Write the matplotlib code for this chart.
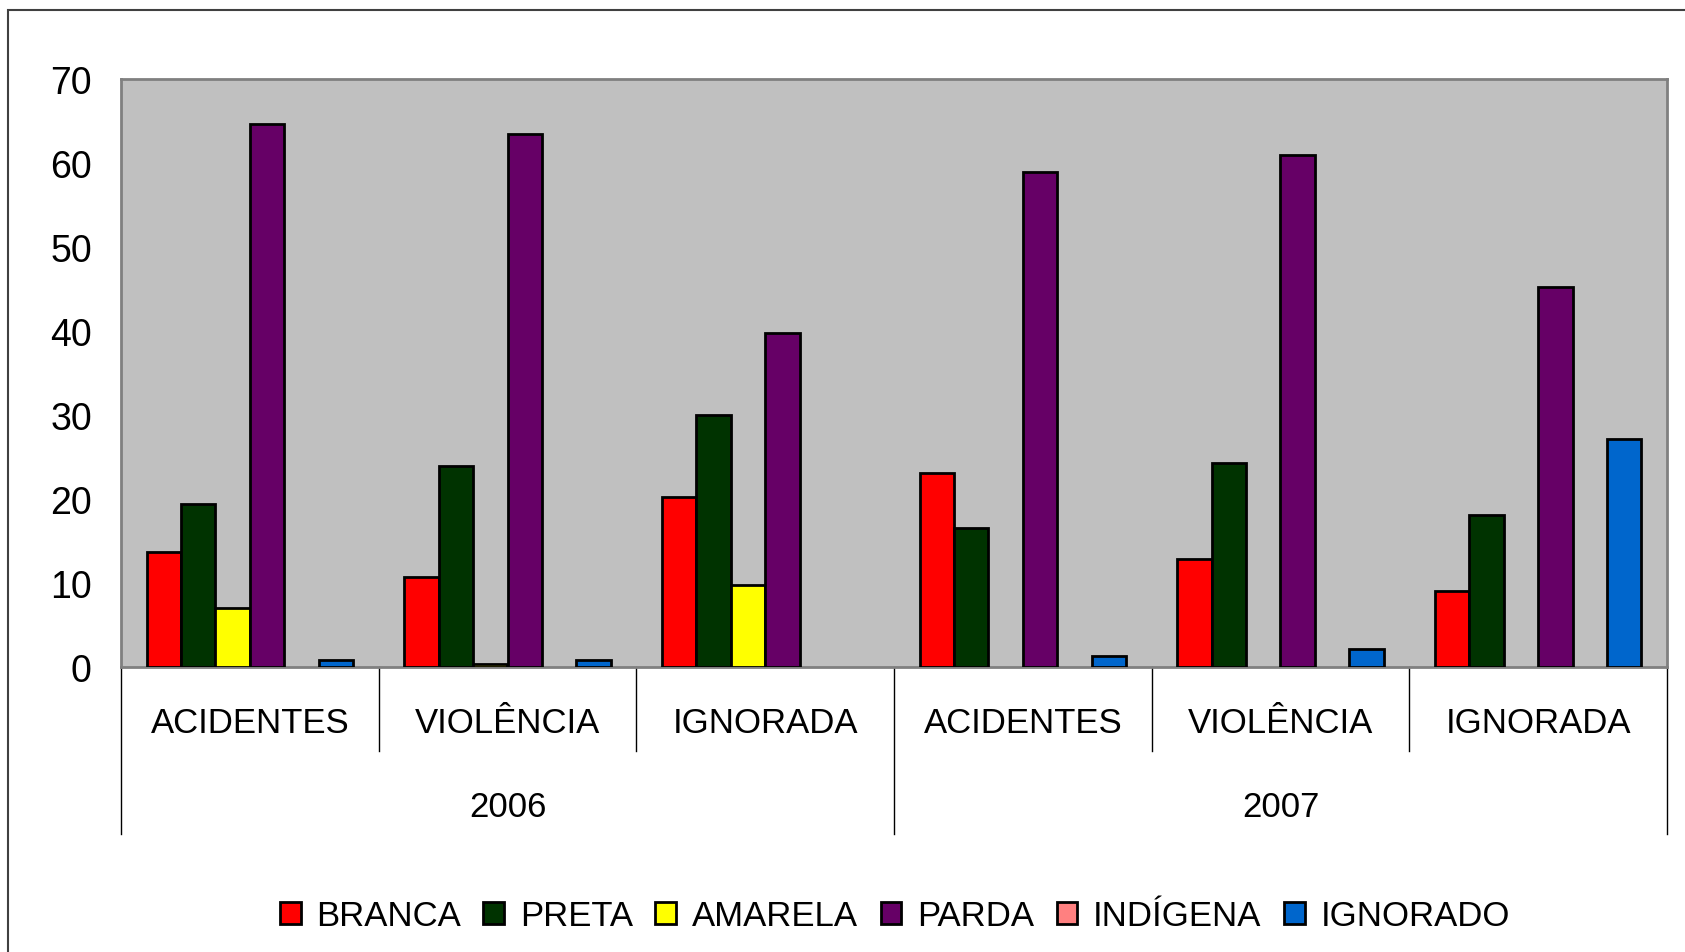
import numpy as np
import matplotlib
matplotlib.use("Agg")
from matplotlib import pyplot as plt
from matplotlib import patches as patch
from matplotlib.lines import Line2D

plt.rcParams['font.family'] = ['Liberation Sans', 'DejaVu Sans']

years = ['2006', '2007']
causes = ['ACIDENTES', 'VIOLÊNCIA', 'IGNORADA']
series = ['BRANCA', 'PRETA', 'AMARELA', 'PARDA', 'INDÍGENA', 'IGNORADO']
colors = ['#FF0000', '#003300', '#FFFF00', '#660066', '#FF8080', '#0066CC']

# one value per category: 2006 ACID, VIOL, IGN, 2007 ACID, VIOL, IGN
branca = [13.7, 10.7, 20.2, 23.1, 12.8, 9.1]
preta = [19.4, 23.9, 30.0, 16.5, 24.3, 18.1]
amarela = [7.0, 0.4, 9.8, 0, 0, 0]
parda = [64.6, 63.5, 39.8, 58.9, 60.9, 45.2]
indigena = [0, 0, 0, 0, 0, 0]
ignorado = [0.8, 0.8, 0, 1.3, 2.2, 27.2]

values = [branca, preta, amarela, parda, indigena, ignorado]

W, H = 1685, 953
fig = plt.figure(figsize=(W / 100, H / 100), dpi=100)

# outer chart frame (only left/top edges are inside the picture)
frame = patch.Rectangle((8 / W, -0.2), 2, 1 - 11 / H + 0.2,
                        transform=fig.transFigure, fill=False,
                        edgecolor='#404040', linewidth=1.5)
fig.patches.append(frame)

ax = fig.add_axes([121 / W, 1 - 668 / H, (1667 - 121) / W, (668 - 80) / H])
ax.set_facecolor('#C0C0C0')

n = len(series)
x = np.arange(len(years) * len(causes))
w = 0.8 / n
for i, (name, vals, col) in enumerate(zip(series, values, colors)):
    bars = ax.bar(x + (i - (n - 1) / 2) * w, vals, width=w, color=col,
                  edgecolor='black', linewidth=2, label=name, zorder=3)
    for b, v in zip(bars, vals):
        if v == 0:
            b.set_visible(False)

ax.set_xlim(-0.5, len(x) - 0.5)
ax.set_ylim(0, 70)
ax.set_yticks(range(0, 71, 10))
ax.tick_params(axis='y', length=0, pad=21, labelsize=27)
ax.set_xticks([])
for s in ax.spines.values():
    s.set_color('#808080')
    s.set_linewidth(2)

# two-level category axis
trans = ax.get_xaxis_transform()
for k in range(len(x) + 1):
    xx = k - 0.5
    if k % len(causes) == 0:
        y_end = -0.284
    else:
        y_end = -0.143
    ax.add_line(Line2D([xx, xx], [0, y_end], transform=trans, color='black',
                       linewidth=1, clip_on=False))

for k in range(len(x)):
    ax.text(x[k], -0.094, causes[k % len(causes)], transform=trans,
            ha='center', va='center', fontsize=25)
for j, yr in enumerate(years):
    xc = j * len(causes) + (len(causes) - 1) / 2
    ax.text(xc, -0.237, yr, transform=trans, ha='center', va='center',
            fontsize=25)

handles = [patch.Patch(facecolor=c, edgecolor='black', linewidth=2)
           for c in colors]
fig.legend(handles, series, loc='center', bbox_to_anchor=(0.531, 1 - 917 / H),
           ncol=n, frameon=False, fontsize=25, handlelength=0.6,
           handleheight=0.6, handletextpad=0.45, columnspacing=0.65)

fig.savefig('out.png', dpi=100)
